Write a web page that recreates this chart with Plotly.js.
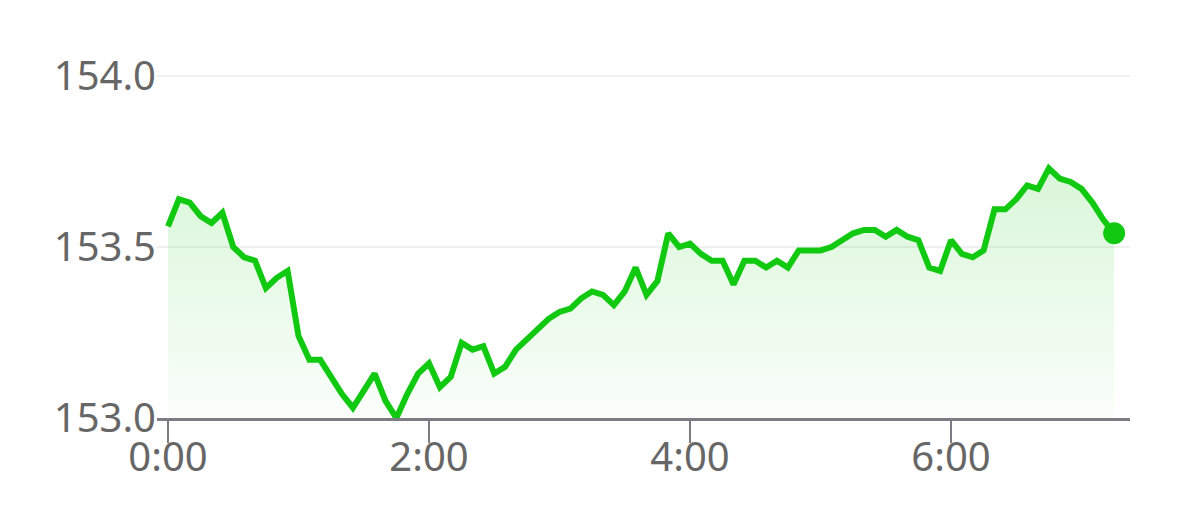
<!DOCTYPE html>
<html>
<head>
<meta charset="utf-8">
<script src="https://cdn.plot.ly/plotly-3.0.1.min.js"></script>
<style>html,body{margin:0;padding:0;background:#fff;}#chart{width:1179px;height:514px;}</style>
</head>
<body>
<div id="chart"></div>
<script>
// minutes since 0:00 (5-minute samples)
const minutes = [0,5,10,15,20,25,30,35,40,45,50,55,60,65,70,75,80,85,90,95,100,105,110,115,120,125,130,135,140,145,150,155,160,165,170,175,180,185,190,195,200,205,210,215,220,225,230,235,240,245,250,255,260,265,270,275,280,285,290,295,300,305,310,315,320,325,330,335,340,345,350,355,360,365,370,375,380,385,390,395,400,405,410,415,420,425,430,435];
const prices = [153.56,153.64,153.63,153.59,153.57,153.60,153.50,153.47,153.46,153.38,153.41,153.43,153.24,153.17,153.17,153.12,153.07,153.03,153.08,153.13,153.05,153.00,153.07,153.13,153.16,153.09,153.12,153.22,153.20,153.21,153.13,153.15,153.20,153.23,153.26,153.29,153.31,153.32,153.35,153.37,153.36,153.33,153.37,153.44,153.36,153.40,153.54,153.50,153.51,153.48,153.46,153.46,153.39,153.46,153.46,153.44,153.46,153.44,153.49,153.49,153.49,153.50,153.52,153.54,153.55,153.55,153.53,153.55,153.53,153.52,153.44,153.43,153.52,153.48,153.47,153.49,153.61,153.61,153.64,153.68,153.67,153.73,153.70,153.69,153.67,153.63,153.58,153.54];
const baseValue = 153.0;
const xTickVals = [0,120,240,360];
const xTickText = ["0:00","2:00","4:00","6:00"];
const yTickVals = [153.0,153.5,154.0];
const yTickText = ["153.0","153.5","154.0"];

const green = "#12c912";
const baseline = {
  x: minutes, y: minutes.map(() => baseValue),
  mode: "lines", line: {width: 0, color: "rgba(0,0,0,0)"},
  hoverinfo: "skip", showlegend: false
};
const area = {
  x: minutes, y: prices,
  mode: "lines", line: {color: green, width: 6},
  fill: "tonexty",
  fillgradient: {type: "vertical", start: 153.0, stop: 153.73,
    colorscale: [[0, "rgba(18,201,18,0.02)"], [1, "rgba(18,201,18,0.16)"]]},
  showlegend: false
};
const lastPt = {
  x: [minutes[minutes.length-1]], y: [prices[prices.length-1]],
  mode: "markers", marker: {size: 22, color: green},
  showlegend: false
};

const fontFam = "Noto Sans, Liberation Sans, sans-serif";
const layout = {
  width: 1179, height: 514,
  margin: {l: 157, r: 49, t: 70, b: 96},
  paper_bgcolor: "#fff", plot_bgcolor: "#fff",
  showlegend: false,
  xaxis: {
    range: [-5.06, 442.3],
    tickvals: xTickVals, ticktext: xTickText,
    showgrid: false, zeroline: false,
    showline: true, linecolor: "#7c7c82", linewidth: 3,
    ticks: "outside", ticklen: 22, tickwidth: 2.5, tickcolor: "#7c7c82",
    ticklabelstandoff: -20,
    tickfont: {family: fontFam, size: 40, color: "#666"},
    fixedrange: true
  },
  yaxis: {
    range: [153.0, 154.0175],
    tickvals: yTickVals, ticktext: yTickText,
    showgrid: true, gridcolor: "#f0f0f0", gridwidth: 2,
    zeroline: false, showline: false, ticks: "",
    tickfont: {family: fontFam, size: 40, color: "#666"},
    fixedrange: true
  }
};
Plotly.newPlot("chart", [baseline, area, lastPt], layout, {displayModeBar: false, staticPlot: true});
</script>
</body>
</html>
